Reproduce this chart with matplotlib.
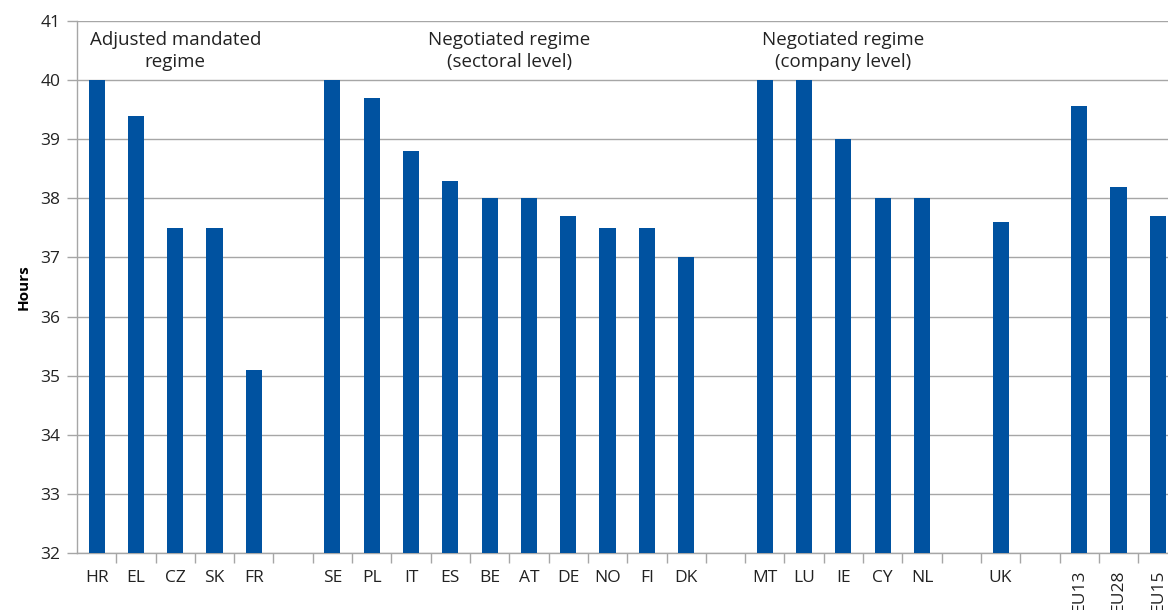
import numpy as np
import matplotlib
matplotlib.use("Agg")
import matplotlib.pyplot as plt

plt.rcParams['font.family'] = ['Open Sans', 'DejaVu Sans']

# slots with '' are the empty gaps between groups
countries = ["HR", "EL", "CZ", "SK", "FR", "",
             "SE", "PL", "IT", "ES", "BE", "AT", "DE", "NO", "FI", "DK", "",
             "MT", "LU", "IE", "CY", "NL", "",
             "UK", "",
             "EU13", "EU28", "EU15"]
hours = [40.0, 39.4, 37.5, 37.5, 35.1, np.nan,
         40.0, 39.7, 38.8, 38.3, 38.0, 38.0, 37.7, 37.5, 37.5, 37.0, np.nan,
         40.0, 40.0, 39.0, 38.0, 38.0, np.nan,
         37.6, np.nan,
         39.57, 38.2, 37.7]

group_titles = ["Adjusted mandated\nregime",
                "Negotiated regime\n(sectoral level)",
                "Negotiated regime\n(company level)"]
group_centres = [2, 10.5, 19]

BAR = "#0052A0"
GRID = "#A6A6A6"

fig = plt.figure(figsize=(11.68, 6.10), dpi=100)
ax = fig.add_axes([0.0659, 0.0934, 0.9341, 0.8721])

x = np.arange(len(countries))
ax.bar(x, hours, width=0.41, color=BAR, zorder=3)

ax.set_yticks(range(32, 42))
ax.yaxis.grid(True, color=GRID, linewidth=1.0, zorder=0)

for s in ["top", "right"]:
    ax.spines[s].set_visible(False)
for s in ["left", "bottom"]:
    ax.spines[s].set_color(GRID)
    ax.spines[s].set_linewidth(1.0)

# labels in the slot centres, tick marks on the slot borders
ax.set_xticks(x)
ax.set_xticklabels(countries, fontsize=12.5, color="#222222")
ax.tick_params(axis="x", which="major", length=0, pad=12)
ax.set_xticks(np.arange(len(countries)) + 0.5, minor=True)
ax.tick_params(axis="x", which="minor", length=7, color=GRID, width=1.0)
for lab in ax.get_xticklabels()[25:]:
    lab.set_rotation(90)
    lab.set_va("top")

# limits last, set_xticks would widen them
ax.set_ylim(32, 41)
ax.set_xlim(-0.5, 27.26)

ax.tick_params(axis="y", length=7, color=GRID, width=1.0, labelsize=12.5,
               labelcolor="#222222", pad=5)
ax.set_ylabel("Hours", fontsize=11, fontweight="bold", labelpad=7)

for title, cx in zip(group_titles, group_centres):
    ax.text(cx, 40.84, title, ha="center", va="top", fontsize=13.5,
            color="#222222", linespacing=1.33)

fig.savefig("out.png", dpi=100)
